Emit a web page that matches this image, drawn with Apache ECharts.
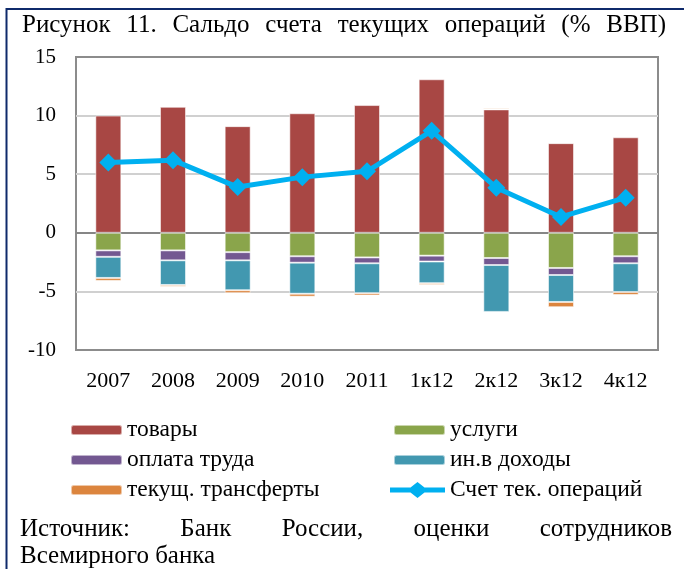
<!DOCTYPE html>
<html>
<head>
<meta charset="utf-8">
<script src="https://cdn.jsdelivr.net/npm/echarts@6/dist/echarts.min.js"></script>
<style>
  html, body { margin: 0; padding: 0; background: #fff; }
  #main { width: 684px; height: 569px; }
</style>
</head>
<body>
<div id="main"></div>
<script>
// данные, % ВВП
var categories = ['2007', '2008', '2009', '2010', '2011', '1к12', '2к12', '3к12', '4к12'];
var goods = [10.0, 10.75, 9.1, 10.2, 10.9, 13.1, 10.53, 7.65, 8.15];
var services = [-1.5, -1.5, -1.65, -2.0, -2.1, -1.95, -2.15, -3.0, -2.0];
var labor = [-0.55, -0.85, -0.7, -0.55, -0.5, -0.5, -0.6, -0.6, -0.6];
var income = [-1.8, -2.1, -2.55, -2.65, -2.55, -1.85, -4.0, -2.3, -2.45];
var transfers = [-0.25, -0.15, -0.25, -0.25, -0.2, -0.15, 0.11, -0.45, -0.25];
var balance = [6.0, 6.2, 3.9, 4.75, 5.25, 8.7, 3.85, 1.35, 3.0];
var yTicks = [-10, -5, 0, 5, 10, 15];

var titleText = 'Рисунок 11. Сальдо счета текущих операций (% ВВП)';
var sourceLine1 = 'Источник: Банк России, оценки сотрудников';
var sourceLine2 = 'Всемирного банка';

var serif = '"Liberation Serif", "Times New Roman", serif';

// раскладка слов по ширине (выравнивание по ширине, как в документе)
var measureCtx = document.createElement('canvas').getContext('2d');
function justify(text, left, right, y, size) {
  measureCtx.font = size + 'px ' + serif;
  var words = text.split(' ');
  var widths = words.map(function (w) { return measureCtx.measureText(w).width; });
  var total = widths.reduce(function (a, b) { return a + b; }, 0);
  var gap = (right - left - total) / (words.length - 1);
  var x = left;
  return words.map(function (w, i) {
    var el = {
      type: 'text',
      x: x,
      y: y,
      style: { text: w, font: size + 'px ' + serif, fill: '#000', verticalAlign: 'middle' }
    };
    x += widths[i] + gap;
    return el;
  });
}

var chart = echarts.init(document.getElementById('main'));

var barBase = {
  type: 'bar',
  stack: 'total',
  barWidth: 26,
  itemStyle: { borderColor: 'rgba(255,255,255,0.55)', borderWidth: 1 }
};

function barSeries(name, data, color) {
  return Object.assign({}, barBase, {
    name: name,
    data: data,
    itemStyle: Object.assign({}, barBase.itemStyle, { color: color })
  });
}

var legendText = { fontFamily: serif, fontSize: 23.5, color: '#000', lineHeight: 24 };
// значок легенды для линии: толстая линия с ромбом
var lineIcon = 'path://M0,5.5 L20.5,5.5 L27.5,0 L34.5,5.5 L55,5.5 L55,10.5 L34.5,10.5 L27.5,16 L20.5,10.5 L0,10.5 Z';

var option = {
  backgroundColor: '#fff',
  animation: false,
  grid: {
    left: 76, right: 26, top: 57, bottom: 219,
    show: true, borderColor: '#8c8c8c', borderWidth: 2
  },
  legend: [
    {
      data: ['товары', 'оплата труда', 'текущ. трансферты'],
      orient: 'vertical', left: 70, top: 418, padding: 0,
      itemWidth: 51, itemHeight: 10, itemGap: 6,
      textStyle: legendText
    },
    {
      data: ['услуги', 'ин.в доходы'],
      orient: 'vertical', left: 393, top: 418, padding: 0,
      itemWidth: 51, itemHeight: 10, itemGap: 6,
      textStyle: legendText
    },
    {
      data: [{ name: 'Счет тек. операций', icon: lineIcon }],
      left: 390, top: 478, padding: 0,
      itemWidth: 55, itemHeight: 16,
      textStyle: legendText
    }
  ],
  xAxis: {
    type: 'category',
    data: categories,
    axisLine: { show: false },
    axisTick: { show: false },
    axisLabel: { fontFamily: serif, fontSize: 22, color: '#000', margin: 20 }
  },
  yAxis: {
    type: 'value',
    min: yTicks[0],
    max: yTicks[yTicks.length - 1],
    interval: 5,
    axisLine: { show: false },
    axisTick: { show: false },
    axisLabel: { fontFamily: serif, fontSize: 21, color: '#000', margin: 20 },
    splitLine: {
      lineStyle: {
        // нулевая линия темнее остальных
        color: ['#8c8c8c', '#d0d0d0', '#868686', '#d0d0d0', '#d0d0d0', '#8c8c8c'],
        width: 2
      }
    }
  },
  graphic: [
    { type: 'line', shape: { x1: 6, y1: 9, x2: 684, y2: 9 }, style: { stroke: '#0f2a6b', lineWidth: 2 } },
    { type: 'line', shape: { x1: 6.5, y1: 8, x2: 6.5, y2: 569 }, style: { stroke: '#0f2a6b', lineWidth: 2 } },
    {
      type: 'text', x: 20, y: 556,
      style: { text: sourceLine2, font: '25px ' + serif, fill: '#000', verticalAlign: 'middle' }
    }
  ].concat(justify(titleText, 22, 666, 25, 25))
   .concat(justify(sourceLine1, 20, 672, 529, 25)),
  series: [
    barSeries('товары', goods, '#a84744'),
    barSeries('услуги', services, '#8aa54b'),
    barSeries('оплата труда', labor, '#735891'),
    barSeries('ин.в доходы', income, '#4298b0'),
    barSeries('текущ. трансферты', transfers, '#dc853e'),
    {
      name: 'Счет тек. операций',
      type: 'line',
      data: balance,
      symbol: 'diamond',
      symbolSize: 18,
      z: 5,
      lineStyle: { color: '#00b0f0', width: 5 },
      itemStyle: { color: '#00b0f0' }
    }
  ]
};

chart.setOption(option);
</script>
</body>
</html>
